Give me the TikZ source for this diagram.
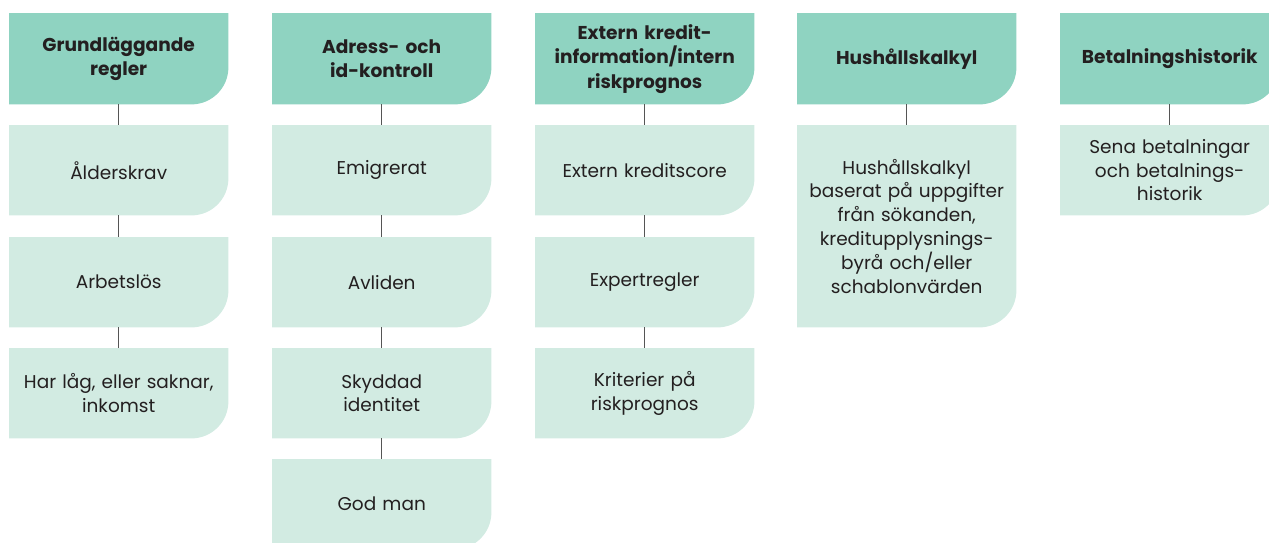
\documentclass[tikz,border=0pt]{standalone}
\usepackage{fontspec}
\setmainfont{Poppins}
\usetikzlibrary{backgrounds}
\definecolor{hdrfill}{HTML}{8FD3C1}
\definecolor{cardfill}{HTML}{D2EBE2}
\definecolor{txt}{HTML}{231F20}
\definecolor{conn}{HTML}{555555}
\tikzset{
  hdrbox/.style={anchor=north west, minimum width=219pt, minimum height=91pt, inner sep=0pt,
    text width=212pt, align=center, text=txt, font=\fontsize{18.6}{24.5}\selectfont\bfseries},
  cardbox/.style={anchor=north west, minimum width=219pt, minimum height=90pt, inner sep=0pt,
    text width=212pt, align=center, text=txt, font=\fontsize{18.5}{23.8}\selectfont},
  tallcard/.style={cardbox, minimum height=202pt},
  connline/.style={draw=conn, line width=1.1pt}
}
\newcommand\cardbg[2]{%
  \begin{pgfonlayer}{background}
  \fill[#2] (#1.north west) -- (#1.north east) -- ([yshift=37pt]#1.south east)
    arc[start angle=0,end angle=-90,radius=37pt] -- (#1.south west) -- cycle;
  \end{pgfonlayer}}
\begin{document}
\begin{tikzpicture}[x=1pt,y=1pt]
\useasboundingbox (0,0) rectangle (1269,-542);
% column 1
\node[hdrbox] (h1) at (9,-13) {Grundläggande\\regler};
\node[cardbox] (a1) at (9,-125) {Ålderskrav};
\node[cardbox] (a2) at (9,-237) {Arbetslös};
\node[cardbox] (a3) at (9,-348) {Har låg, eller saknar,\\inkomst};
% column 2
\node[hdrbox] (h2) at (272,-13) {Adress- och\\id-kontroll};
\node[cardbox] (b1) at (272,-125) {Emigrerat};
\node[cardbox] (b2) at (272,-237) {Avliden};
\node[cardbox] (b3) at (272,-348) {Skyddad\\identitet};
\node[cardbox] (b4) at (272,-459) {God man};
% column 3
\node[hdrbox] (h3) at (535,-13) {Extern kredit-\\information/intern\\riskprognos};
\node[cardbox] (c1) at (535,-125) {Extern kreditscore};
\node[cardbox] (c2) at (535,-237) {Expertregler};
\node[cardbox] (c3) at (535,-348) {Kriterier på\\riskprognos};
% column 4
\node[hdrbox] (h4) at (797,-13) {Hushållskalkyl};
\node[tallcard] (d1) at (797,-125) {Hushållskalkyl\\baserat på uppgifter\\från sökanden,\\kreditupplysnings-\\byrå och/eller\\schablonvärden};
% column 5
\node[hdrbox] (h5) at (1060,-13) {Betalningshistorik};
\node[cardbox] (e1) at (1060,-125) {Sena betalningar\\och betalnings-\\historik};
% backgrounds
\foreach \n in {h1,h2,h3,h4,h5}{\cardbg{\n}{hdrfill}}
\foreach \n in {a1,a2,a3,b1,b2,b3,b4,c1,c2,c3,d1,e1}{\cardbg{\n}{cardfill}}
% connectors
\draw[connline] (h1) -- (a1); \draw[connline] (a1) -- (a2); \draw[connline] (a2) -- (a3);
\draw[connline] (h2) -- (b1); \draw[connline] (b1) -- (b2); \draw[connline] (b2) -- (b3); \draw[connline] (b3) -- (b4);
\draw[connline] (h3) -- (c1); \draw[connline] (c1) -- (c2); \draw[connline] (c2) -- (c3);
\draw[connline] (h4) -- (d1);
\draw[connline] (h5) -- (e1);
\end{tikzpicture}
\end{document}
